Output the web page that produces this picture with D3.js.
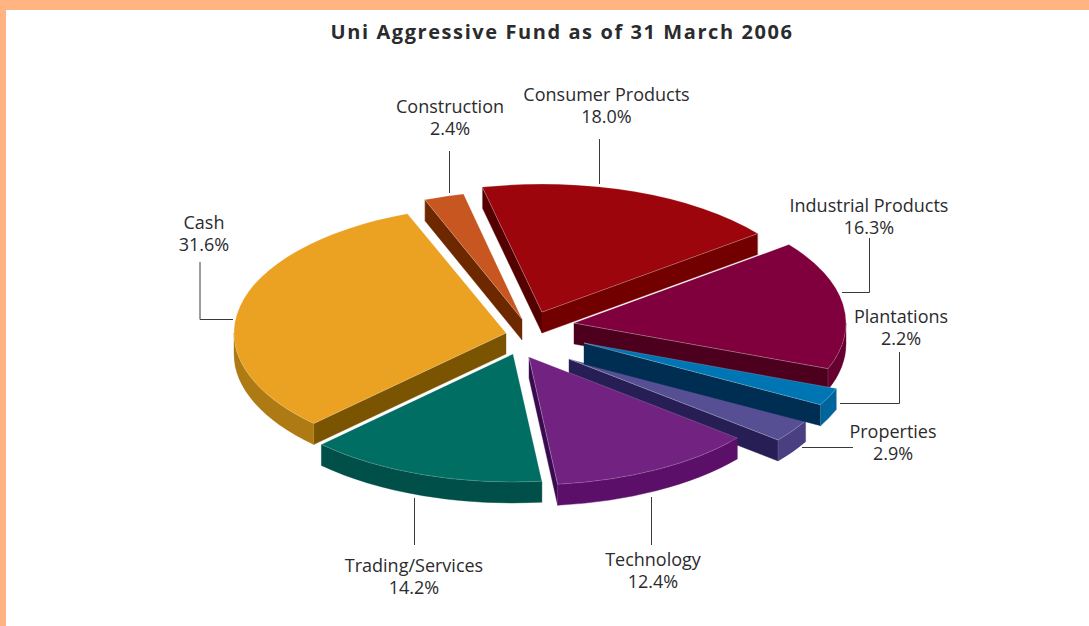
<!DOCTYPE html>
<html><head><meta charset="utf-8">
<script src="https://cdn.jsdelivr.net/npm/d3@7"></script>
<style>
html,body{margin:0;padding:0;background:#fff;}
svg{display:block;}
text{font-family:"Open Sans","Noto Sans",sans-serif;fill:#2b2b2e;}
</style></head><body><div id="chart"></div>
<script>
const title = "Uni Aggressive Fund as of 31 March 2006";
// data, in pie order (clockwise)
const categories = ["Cash","Construction","Consumer Products","Industrial Products","Plantations","Properties","Technology","Trading/Services"];
const values = [31.6,2.4,18.0,16.3,2.2,2.9,12.4,14.2];
// styling per slice
const topColors   = ["#EBA121","#C85621","#9B050B","#7F003C","#0075B4","#564F94","#722381","#006E63"];
const rimColors   = ["#AE7A14","#6E2800","#720000","#66002F","#00659A","#4A3F80","#5C0F69","#004F48"];
const endCut      = ["#7A5400","#6E2800","#720000","#4C001E","#002E53","#271E55","#3A0A50","#004F48"];
const startCut    = ["#7A5400","#6E2800","#550000","#4C001E","#002E53","#271E55","#3A0A50","#004F48"];
// exploded offset of each slice from the pie centre, and its horizontal radius
const explodeX = [-34,-18,2,34,44,29,-11,-27];
const explodeY = [-2,-16,-23,-12,8,24,22,19];
const radiusX  = [272,268,273,272,270,270,269,271];
// painter's order, back to front
const drawOrder = [2,1,0,3,5,4,6,7];
// labels
const labelX = [204,450,606.5,869,901,893,653,414];
const labelY = [223,107,95,206,317,432,560,566];
const leaders = [
  [[200,262],[200,319.5],[233,319.5]],
  [[449.5,151],[449.5,193]],
  [[599.5,139],[599.5,184]],
  [[869.5,238],[869.5,292.5],[842,292.5]],
  [[899.5,352],[899.5,403.5],[840,403.5]],
  [[802,447.5],[853,447.5]],
  [[651.5,497],[651.5,545]],
  [[414.5,498],[414.5,545]]
];

const W=1089,H=626,cx=540,cy=335,ry=128,depth=21;
const svg=d3.select("#chart").append("svg").attr("width",W).attr("height",H);
svg.append("rect").attr("width",W).attr("height",H).attr("fill","#fff");
svg.append("rect").attr("width",W).attr("height",10).attr("fill","#FFB482");
svg.append("rect").attr("width",6).attr("height",H).attr("fill","#FFB482");

svg.append("text").attr("x",562).attr("y",39).attr("text-anchor","middle")
  .style("font-size","20px").style("font-weight",700).style("letter-spacing","1.58px").text(title);

const pie=d3.pie().sort(null).startAngle(225*Math.PI/180).endAngle((225+360)*Math.PI/180);
const arcs=pie(values);
const g=svg.append("g");
const pt=(i,a,dz=0)=>[cx+explodeX[i]+radiusX[i]*Math.sin(a),cy+explodeY[i]-ry*Math.cos(a)+dz];
const apex=(i,dz=0)=>[cx+explodeX[i],cy+explodeY[i]+dz];
const edge="rgba(255,255,255,0.35)";

function cutWall(i,a,outSign,color){
  const p=apex(i),q=pt(i,a),ex=q[0]-p[0];
  // outward normal y component decides visibility
  if(outSign*ex<=0) return;
  const d=`M${p}L${q}L${pt(i,a,depth)}L${apex(i,depth)}Z`;
  g.append("path").attr("d",d).attr("fill",color).attr("stroke",color).attr("stroke-width",0.4);
  g.append("path").attr("d",`M${p}L${q}`).attr("stroke",edge).attr("stroke-width",0.8).attr("fill","none");
  g.append("path").attr("d",`M${q}L${pt(i,a,depth)}`).attr("stroke",edge).attr("stroke-width",0.6).attr("fill","none");
}
function rim(i,a0,a1){
  const rx=radiusX[i];
  [[Math.PI/2,3*Math.PI/2],[5*Math.PI/2,7*Math.PI/2]].forEach(([lo,hi])=>{
    const s=Math.max(a0,lo),e=Math.min(a1,hi);
    if(e<=s) return;
    const d=`M${pt(i,s)}A${rx} ${ry} 0 0 1 ${pt(i,e)}L${pt(i,e,depth)}A${rx} ${ry} 0 0 0 ${pt(i,s,depth)}Z`;
    g.append("path").attr("d",d).attr("fill",rimColors[i]).attr("stroke",rimColors[i]).attr("stroke-width",0.4);
  });
}
drawOrder.forEach(i=>{
  const {startAngle:a0,endAngle:a1}=arcs[i];
  cutWall(i,a0,-1,startCut[i]);
  cutWall(i,a1,1,endCut[i]);
  rim(i,a0,a1);
  const large=(a1-a0)>Math.PI?1:0;
  const rx=radiusX[i];
  g.append("path").attr("d",`M${apex(i)}L${pt(i,a0)}A${rx} ${ry} 0 ${large} 1 ${pt(i,a1)}Z`)
    .attr("fill",topColors[i]).attr("stroke",edge).attr("stroke-width",0.5);
});

const line=d3.line();
leaders.forEach(l=>svg.append("path").attr("d",line(l)).attr("fill","none").attr("stroke","#3a3a3a").attr("stroke-width",1));

categories.forEach((c,i)=>{
  const t=svg.append("text").attr("text-anchor","middle").style("font-size","18px");
  t.append("tspan").attr("x",labelX[i]).attr("y",labelY[i]+6).text(c);
  t.append("tspan").attr("x",labelX[i]).attr("y",labelY[i]+28).text(values[i].toFixed(1)+"%");
});
</script></body></html>
